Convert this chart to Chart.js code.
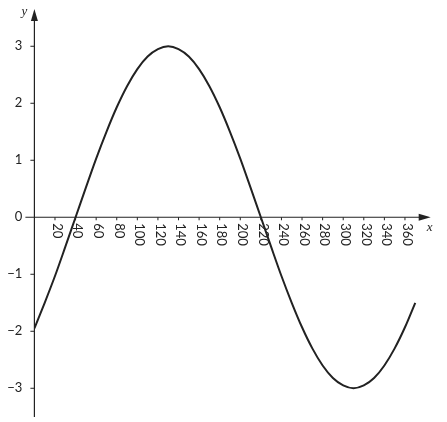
<!DOCTYPE html>
<html>
<head>
<meta charset="utf-8">
<script src="https://cdn.jsdelivr.net/npm/chart.js@4/dist/chart.umd.min.js"></script>
<style>
html,body{margin:0;padding:0;background:#fff;}
#wrap{position:relative;width:447px;height:422px;}
</style>
</head>
<body>
<div id="wrap"><canvas id="c"></canvas></div>
<script>
// x values (degrees) and y values
const xValues = [0,10,20,30,40,50,60,70,80,90,100,110,120,130,140,150,160,170,180,190,200,210,220,230,240,250,260,270,280,290,300,310,320,330,340,350,360,370];
const yValues = [-1.95,-1.5,-1.03,-0.52,0,0.52,1.03,1.5,1.93,2.3,2.6,2.82,2.95,3.0,2.95,2.82,2.6,2.3,1.93,1.5,1.03,0.52,0,-0.52,-1.03,-1.5,-1.93,-2.3,-2.6,-2.82,-2.95,-3.0,-2.95,-2.82,-2.6,-2.3,-1.93,-1.5];
const xTicks = [20,40,60,80,100,120,140,160,180,200,220,240,260,280,300,320,340,360];
const yTicks = [3,2,1,0,-1,-2,-3];
const xAxisTitle = 'x';
const yAxisTitle = 'y';

const points = xValues.map((x, i) => ({x: x, y: yValues[i]}));
const INK = '#222';
const LABEL_FONT = '13px Lato, "Open Sans", "DejaVu Sans", sans-serif';

const axesPlugin = {
  id: 'axesPlugin',
  beforeDatasetsDraw(chart) {
    const ctx = chart.ctx;
    const xs = chart.scales.x, ys = chart.scales.y;
    const x0 = xs.getPixelForValue(0);
    const y0 = ys.getPixelForValue(0);
    const area = chart.chartArea;
    ctx.save();
    ctx.strokeStyle = INK;
    ctx.fillStyle = INK;
    ctx.lineWidth = 1.2;
    // x axis line
    ctx.beginPath();
    ctx.moveTo(x0 - 9, y0);
    ctx.lineTo(area.right - 8, y0);
    ctx.stroke();
    // x arrow
    ctx.beginPath();
    ctx.moveTo(area.right, y0);
    ctx.lineTo(area.right - 12, y0 - 3.5);
    ctx.lineTo(area.right - 12, y0 + 3.5);
    ctx.closePath();
    ctx.fill();
    // y axis line
    ctx.beginPath();
    ctx.moveTo(x0, area.bottom);
    ctx.lineTo(x0, area.top + 8);
    ctx.stroke();
    // y arrow
    ctx.beginPath();
    ctx.moveTo(x0, area.top);
    ctx.lineTo(x0 - 3.5, area.top + 12);
    ctx.lineTo(x0 + 3.5, area.top + 12);
    ctx.closePath();
    ctx.fill();
    // x ticks
    ctx.lineWidth = 1;
    xTicks.forEach(v => {
      const px = xs.getPixelForValue(v);
      ctx.beginPath();
      ctx.moveTo(px, y0);
      ctx.lineTo(px, y0 + 3);
      ctx.stroke();
    });
    // y ticks
    yTicks.forEach(v => {
      if (v === 0) return;
      const py = ys.getPixelForValue(v);
      ctx.beginPath();
      ctx.moveTo(x0 - 4, py);
      ctx.lineTo(x0, py);
      ctx.stroke();
    });
    // x tick labels (rotated clockwise)
    ctx.font = LABEL_FONT;
    ctx.textAlign = 'left';
    ctx.textBaseline = 'middle';
    xTicks.forEach(v => {
      const px = xs.getPixelForValue(v);
      ctx.save();
      ctx.translate(px + 2, y0 + 6);
      ctx.rotate(Math.PI / 2);
      ctx.fillText(String(v), 0, 0);
      ctx.restore();
    });
    // y tick labels
    ctx.textAlign = 'right';
    ctx.textBaseline = 'middle';
    yTicks.forEach(v => {
      const py = ys.getPixelForValue(v);
      const txt = v < 0 ? '\u2212' + Math.abs(v) : String(v);
      ctx.fillText(txt, x0 - 12, py);
    });
    // axis titles
    ctx.font = 'italic 13px "Liberation Serif", "DejaVu Serif", serif';
    ctx.textAlign = 'center';
    ctx.fillText(yAxisTitle, x0 - 10, area.top + 3);
    ctx.fillText(xAxisTitle, area.right - 1, y0 + 10);
    ctx.restore();
  }
};

new Chart(document.getElementById('c'), {
  type: 'line',
  data: {
    datasets: [{
      data: points,
      borderColor: INK,
      borderWidth: 2,
      pointRadius: 0,
      fill: false,
      cubicInterpolationMode: 'monotone'
    }]
  },
  options: {
    responsive: true,
    maintainAspectRatio: false,
    animation: false,
    devicePixelRatio: 1,
    layout: { padding: { left: 34.4, right: 16.3, top: 9, bottom: 5 } },
    plugins: { legend: { display: false }, tooltip: { enabled: false } },
    scales: {
      x: { type: 'linear', min: 0, max: 385, display: false },
      y: { type: 'linear', min: -3.504, max: 3.654, display: false }
    }
  },
  plugins: [axesPlugin]
});
</script>
</body>
</html>
